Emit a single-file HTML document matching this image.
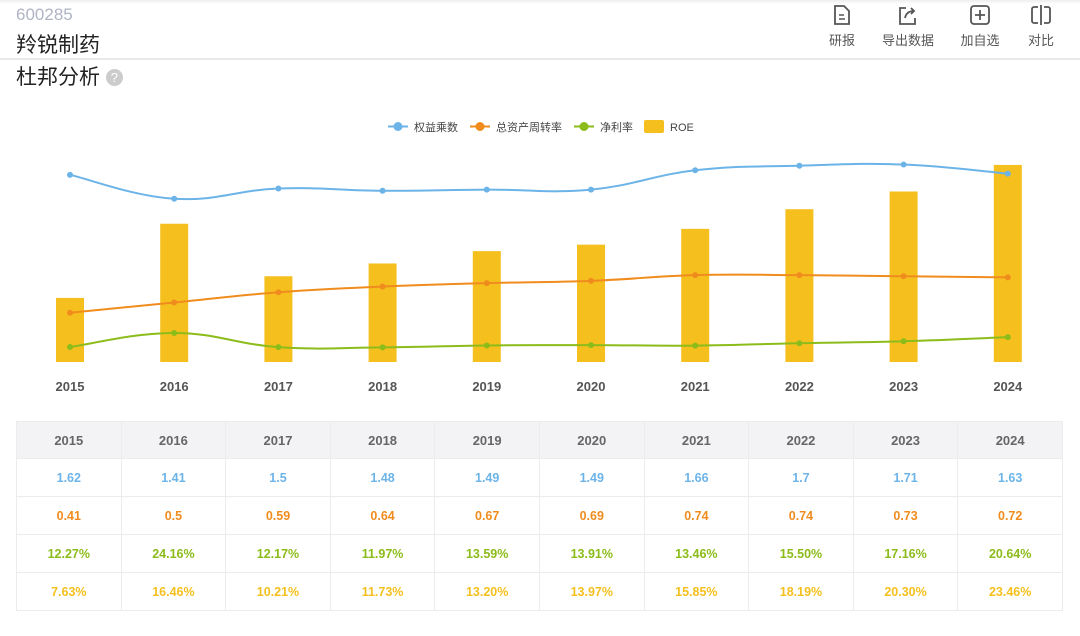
<!DOCTYPE html>
<html><head><meta charset="utf-8">
<style>
body{margin:0;width:1080px;height:636px;background:#fff;font-family:"Liberation Sans","Noto Sans CJK SC",sans-serif;position:relative;overflow:hidden}
.abs{position:absolute}
.tool{position:absolute;top:4px;text-align:center;font-size:13px;color:#555}
.tool svg{display:block;margin:0 auto 4px}
table{position:absolute;left:16px;top:421px;width:1047px;border-collapse:collapse;table-layout:fixed}
td{border:1px solid #ececec;text-align:center;font-size:12.5px;font-weight:bold;height:37px;padding:0}
tr.h td{background:#f3f3f5;color:#666;font-size:13px;height:36px}
</style></head><body>
<div class="abs" style="left:0;top:0;width:1080px;height:4px;background:linear-gradient(#eee,#fff)"></div>
<div class="abs" style="left:16px;top:5px;font-size:17px;color:#b0b4c4">600285</div>
<div class="abs" style="left:16px;top:29px;font-size:21px;color:#222">羚锐制药</div>
<div class="abs" style="left:0;top:58px;width:1080px;height:2px;background:#e8e8e8"></div>
<div class="abs" style="left:16px;top:61px;font-size:21px;color:#222">杜邦分析 <span style="display:inline-block;width:17px;height:17px;border-radius:50%;background:#ccc;color:#fff;font-size:13px;text-align:center;line-height:17px;vertical-align:2px">?</span></div>
<div class="tool" style="left:826px;width:32px"><svg width="20" height="22" viewBox="0 0 20 22"><path d="M3 2h9l5 5v13H3z" fill="none" stroke="#555" stroke-width="1.8"/><path d="M7 11h5M7 15h6" stroke="#555" stroke-width="1.6"/></svg>研报</div>
<div class="tool" style="left:880px;width:56px"><svg width="22" height="22" viewBox="0 0 22 22"><path d="M9 4H3v16h15v-6" fill="none" stroke="#555" stroke-width="1.8"/><path d="M8 14c1-5 4-7 9-7M14 4l3 3-3 3" fill="none" stroke="#555" stroke-width="1.8"/></svg>导出数据</div>
<div class="tool" style="left:958px;width:44px"><svg width="22" height="22" viewBox="0 0 22 22"><rect x="2" y="2" width="18" height="18" rx="3" fill="none" stroke="#555" stroke-width="1.8"/><path d="M11 6v10M6 11h10" stroke="#555" stroke-width="1.8"/></svg>加自选</div>
<div class="tool" style="left:1025px;width:32px"><svg width="24" height="22" viewBox="0 0 24 22"><path d="M9 3H5a2 2 0 0 0-2 2v12a2 2 0 0 0 2 2h4M15 3h4a2 2 0 0 1 2 2v12a2 2 0 0 1-2 2h-4M12 1v20" fill="none" stroke="#555" stroke-width="1.8"/></svg>对比</div>

<svg id="chart" class="abs" style="left:0;top:100px" width="1080" height="300"></svg>

<table><tbody id="tb"></tbody></table>

<script>
const years=['2015','2016','2017','2018','2019','2020','2021','2022','2023','2024'];
const equityMult=[1.62,1.41,1.5,1.48,1.49,1.49,1.66,1.7,1.71,1.63];
const assetTurn=[0.41,0.5,0.59,0.64,0.67,0.69,0.74,0.74,0.73,0.72];
const netMargin=[12.27,24.16,12.17,11.97,13.59,13.91,13.46,15.50,17.16,20.64];
const roe=[7.63,16.46,10.21,11.73,13.20,13.97,15.85,18.19,20.30,23.46];
const C={b:'#6cb4e8',o:'#f08c1e',g:'#8cbc1a',y:'#f5c01e'};
const NS='http://www.w3.org/2000/svg';
const svg=document.getElementById('chart');
const OY=100;
const x=i=>70+i*104.2;
const base=362-OY;
const yRoe=v=>base-v*8.4;
const yRatio=v=>base-2.5-v*114;
const yMargin=v=>base-0.5-v*1.18;
function mk(t,a){const e=document.createElementNS(NS,t);for(const k in a)e.setAttribute(k,a[k]);svg.appendChild(e);return e;}
roe.forEach((v,i)=>{const r=mk('rect',{x:x(i)-14,y:yRoe(v),width:28,height:base-yRoe(v),fill:C.y});

});
function smooth(pts){let d='M'+pts[0][0]+','+pts[0][1];for(let i=0;i<pts.length-1;i++){const p0=pts[Math.max(0,i-1)],p1=pts[i],p2=pts[i+1],p3=pts[Math.min(pts.length-1,i+2)];const t=0.2;d+=' C'+(p1[0]+(p2[0]-p0[0])*t)+','+(p1[1]+(p2[1]-p0[1])*t)+' '+(p2[0]-(p3[0]-p1[0])*t)+','+(p2[1]-(p3[1]-p1[1])*t)+' '+p2[0]+','+p2[1];}return d;}
function line(vals,fy,col,name){const pts=vals.map((v,i)=>[x(i),fy(v)]);const p=mk('path',{d:smooth(pts),fill:'none',stroke:col,'stroke-width':2});


pts.forEach((q,i)=>{const c=mk('circle',{cx:q[0],cy:q[1],r:3,fill:col});

});}
line(equityMult,yRatio,C.b,'equity-multiplier');
line(assetTurn,yRatio,C.o,'asset-turnover');
line(netMargin,yMargin,C.g,'net-margin');
years.forEach((y,i)=>{const t=mk('text',{x:x(i),y:base+29,'text-anchor':'middle','font-size':13,'font-weight':'bold',fill:'#555'});t.textContent=y;

});
const legend=[['权益乘数',C.b,388],['总资产周转率',C.o,470],['净利率',C.g,574],['ROE',C.y,644]];
legend.forEach(l=>{const g=document.createElementNS(NS,'g');svg.appendChild(g);


if(l[0]==='ROE'){const r=document.createElementNS(NS,'rect');r.setAttribute('x',l[2]);r.setAttribute('y',20);r.setAttribute('width',20);r.setAttribute('height',13);r.setAttribute('rx',2);r.setAttribute('fill',l[1]);g.appendChild(r);}
else{const p=document.createElementNS(NS,'path');p.setAttribute('d','M'+l[2]+',26.5h20');p.setAttribute('stroke',l[1]);p.setAttribute('stroke-width',2);g.appendChild(p);const c=document.createElementNS(NS,'circle');c.setAttribute('cx',l[2]+10);c.setAttribute('cy',26.5);c.setAttribute('r',4.5);c.setAttribute('fill',l[1]);g.appendChild(c);}
const t=document.createElementNS(NS,'text');t.setAttribute('x',l[2]+26);t.setAttribute('y',31);t.setAttribute('font-size',11);t.setAttribute('fill','#444');t.textContent=l[0];g.appendChild(t);});
const tb=document.getElementById('tb');
function row(arr,col,cls,fmt,name){const tr=document.createElement('tr');if(cls)tr.className=cls;


arr.forEach(v=>{const td=document.createElement('td');td.textContent=fmt(v);if(col)td.style.color=col;tr.appendChild(td);});tb.appendChild(tr);}
row(years,null,'h',v=>v,'table-header-row');
row(equityMult,C.b,'',v=>String(v),'equity-multiplier-row');
row(assetTurn,C.o,'',v=>String(v),'asset-turnover-row');
row(netMargin,C.g,'',v=>v.toFixed(2)+'%','net-margin-row');
row(roe,C.y,'',v=>v.toFixed(2)+'%','roe-row');
</script>
</body></html>
